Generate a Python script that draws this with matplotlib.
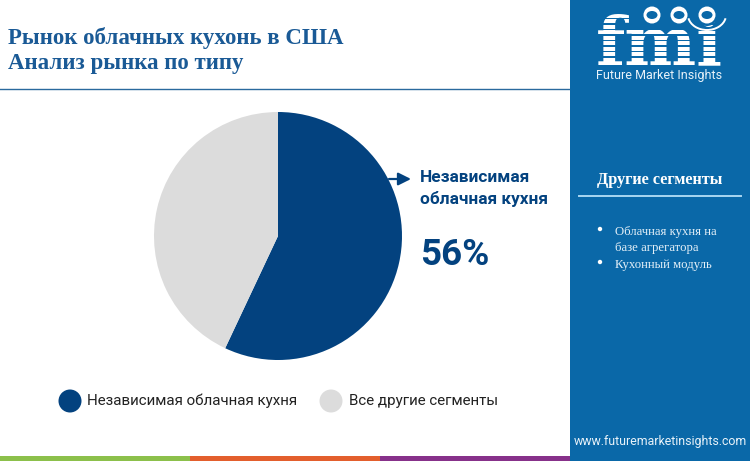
import matplotlib
matplotlib.use("Agg")
import matplotlib.pyplot as plt
from matplotlib.patches import Rectangle, Circle, Arc, Ellipse

# data
segments = ["Независимая облачная кухня", "Все другие сегменты"]
shares = [57, 43]  # as drawn in the picture, the label says 56
pie_colors = ["#03427f", "#dcdcdc"]
title_lines = ["Рынок облачных кухонь в США", "Анализ рынка по типу"]
callout = ["Независимая", "облачная кухня"]
callout_value = "56%"
side_title = "Другие сегменты"
side_items = [("Облачная кухня на", "базе агрегатора"), ("Кухонный модуль",)]
bottom_colors = ["#8cc04b", "#e35f2d", "#87318a"]

W, H = 750, 461
blue = "#1a5a96"
side = "#0a68a8"

fig = plt.figure(figsize=(W / 100, H / 100), dpi=100, facecolor="white")
bg = fig.add_axes([0, 0, 1, 1])
bg.set_xlim(0, W)
bg.set_ylim(H, 0)
bg.axis("off")

# side panel and bottom stripe
bg.add_patch(Rectangle((570, 0), 180, H, color=side, lw=0))
for i, c in enumerate(bottom_colors):
    bg.add_patch(Rectangle((i * 190, 456), 190, 5, color=c, lw=0))
bg.plot([0, 569], [89.5, 89.5], color="#2a6a9e", lw=1)

# title
for y, line in zip([38, 63], title_lines):
    bg.text(8, y, line, fontsize=16.5, family="Liberation Serif", weight="bold",
            color=blue, va="center", ha="left")

# pie
pie_ax = fig.add_axes([(278 - 125) / W, 1 - (236 + 125) / H, 250 / W, 250 / H])
pie_ax.pie(shares, colors=pie_colors, startangle=90, counterclock=False, radius=1)
pie_ax.set_xlim(-125 / 124, 125 / 124)
pie_ax.set_ylim(-125 / 124, 125 / 124)

# callout
bg.annotate("", xy=(411, 179), xytext=(389, 179),
            arrowprops=dict(arrowstyle="-|>", color="#03427f", lw=1.6, mutation_scale=19,
                            shrinkA=0, shrinkB=0))
bg.text(420, 177, callout[0], fontsize=12.4, family="Roboto", weight="bold", color="#03427f", va="center")
bg.text(420, 199, callout[1], fontsize=12.4, family="Roboto", weight="bold", color="#03427f", va="center")
bg.text(420, 255, callout_value, fontsize=26.5, family="Roboto", weight="bold", color="#03427f", va="center")

# legend
for x, c, label, tx in zip([70, 331], pie_colors, segments, [87, 349]):
    bg.add_patch(Circle((x, 401), 11.5, color=c, lw=0))
    bg.text(tx, 401, label, fontsize=10.9, family="Roboto", color="#222222", va="center")

# side text
bg.text(660, 180, side_title, fontsize=11.7, family="Liberation Serif", weight="bold",
        color="white", ha="center", va="center")
bg.plot([579, 741], [195.5, 195.5], color="#a9d6f2", lw=1.4)
ys = [[232, 248], [265]]
for item, yy in zip(side_items, ys):
    bg.add_patch(Circle((600, yy[0] - 3), 2.2, color="white", lw=0))
    for line, y in zip(item, yy):
        bg.text(615, y, line, fontsize=9.2, family="Liberation Serif", color="#e4f0f8", va="center")

# logo
bg.text(659.5, 64, "fmi", fontsize=49, family="DejaVu Serif", weight="bold", color="white",
        ha="center", va="baseline")
for y in [18, 23.5, 29, 34.5, 40, 45.5, 51, 56.5]:
    bg.add_patch(Rectangle((590, y), 140, 1.2, color=side, lw=0, zorder=3))
for cx in [652, 679, 707]:
    bg.add_patch(Circle((cx, 15), 11, color=side, lw=0, zorder=4))
    bg.add_patch(Circle((cx, 15), 8.5, color="white", lw=0, zorder=5))
    bg.add_patch(Ellipse((cx, 15), 11, 8, color=side, lw=0, zorder=6))
bg.add_patch(Arc((707, 15), 38, 30, theta1=10, theta2=170, color="white", lw=1.4, zorder=6))
bg.text(659, 75, "Future Market Insights", fontsize=9, family="Roboto", color="#e8f2f9",
        ha="center", va="center")
bg.text(660, 441, "www.futuremarketinsights.com", fontsize=8.9, family="Roboto", color="#e8f2f9",
        ha="center", va="center")

fig.savefig("out.png", dpi=100)
